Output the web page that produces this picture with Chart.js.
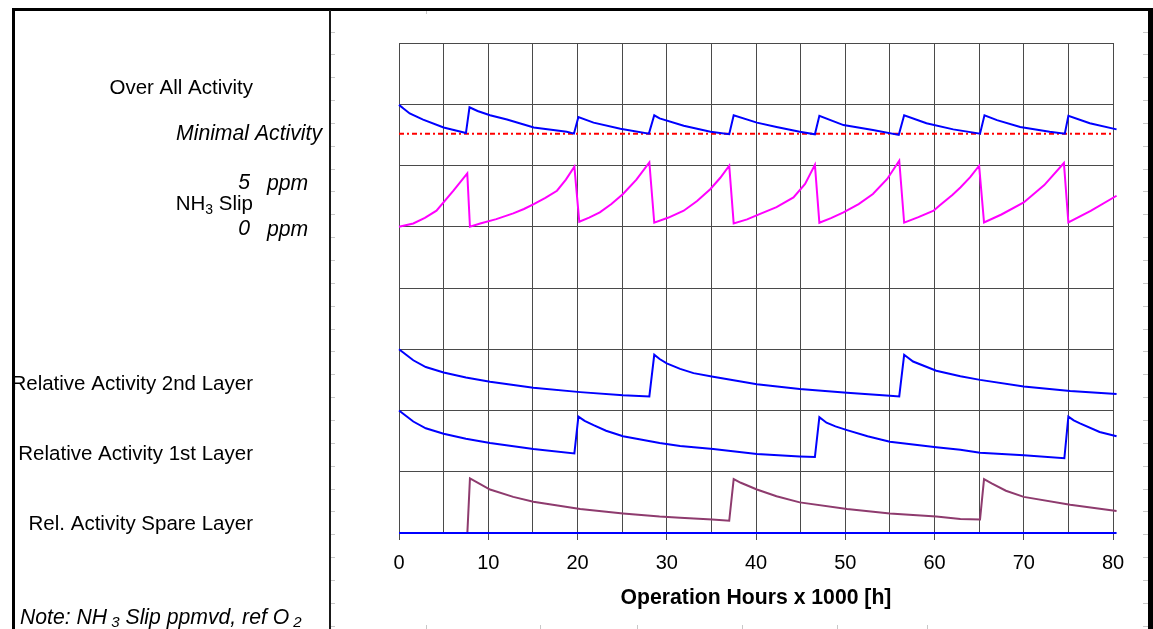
<!DOCTYPE html>
<html>
<head>
<meta charset="utf-8">
<script src="https://cdn.jsdelivr.net/npm/chart.js@4.4.1/dist/chart.umd.min.js"></script>
<style>
  html, body { margin: 0; padding: 0; background: #fff; }
  canvas { display: block; }
</style>
</head>
<body>
<canvas id="myChart" width="1153" height="629"></canvas>
<script>
// hours x 1000 / relative activity inside its band (0..1)
const overallHours = [0, 0.5, 1.2, 2.7, 5.0, 7.5, 7.9, 8.8, 10.2, 12.1, 15.1, 18.8, 19.6, 20.1, 21.8, 24.8, 28.0,
    28.6, 29.2, 31.9, 34.9, 37.0, 37.5, 40.1, 42.3, 44.9, 46.6, 47.1, 49.8, 53.1, 56.0,
    56.6, 59.1, 62.1, 65.1, 65.6, 67.0, 69.6, 72.9, 74.6, 75.0, 77.4, 80.4];
const overallActivity = [0.99, 0.93, 0.85, 0.75, 0.62, 0.53, 0.95, 0.89, 0.82, 0.75, 0.62, 0.55, 0.52, 0.79, 0.70, 0.60, 0.52,
    0.82, 0.77, 0.65, 0.55, 0.51, 0.82, 0.70, 0.63, 0.55, 0.51, 0.81, 0.66, 0.58, 0.50,
    0.82, 0.69, 0.59, 0.52, 0.82, 0.74, 0.63, 0.55, 0.52, 0.81, 0.69, 0.59];

const minimalHours = [0, 80];
const minimalActivity = [0.52, 0.52];

// NH3 slip in ppm (band = 0..5 ppm)
const slipHours = [0, 1.6, 2.9, 4.2, 6.1, 7.65,
    7.95, 9.1, 10.9, 12.8, 14.0, 15.1, 16.4, 17.7, 18.7, 19.65,
    20.2, 21.3, 22.5, 23.8, 25.1, 26.6, 28.05,
    28.6, 30.2, 31.9, 33.4, 34.9, 36.0, 37.0,
    37.5, 39.0, 40.4, 42.3, 44.2, 45.5, 46.6,
    47.1, 48.4, 49.8, 51.5, 53.1, 54.7, 56.05,
    56.6, 58.2, 59.9, 60.6, 62.0, 62.9, 64.0, 65.0,
    65.55, 67.5, 70.0, 72.3, 74.5,
    75.0, 77.5, 80.4];
const slipPpm = [0, 0.27, 0.72, 1.31, 2.94, 4.35,
    0, 0.27, 0.62, 1.09, 1.45, 1.85, 2.35, 2.94, 3.85, 4.9,
    0.41, 0.75, 1.17, 1.85, 2.67, 3.85, 5.25,
    0.33, 0.75, 1.31, 2.1, 3.08, 4.0, 4.98,
    0.27, 0.6, 1.03, 1.6, 2.39, 3.5, 5.06,
    0.33, 0.7, 1.17, 1.85, 2.67, 3.9, 5.39,
    0.33, 0.78, 1.31, 1.75, 2.6, 3.21, 4.05, 4.98,
    0.35, 1.0, 1.98, 3.4, 5.2,
    0.35, 1.3, 2.53];

const layer2Hours = [0, 0.8, 1.6, 3.0, 5.0, 7.5, 10.2, 15.05, 20.3, 25.1, 28.05, 28.6, 29.2, 30.0, 31.5, 33.0,
    35.2, 40.1, 44.9, 50.2, 55.0, 56.05, 56.6, 57.6, 60.2, 62.9, 65.1, 70.0, 75.2, 80.4];
const layer2Activity = [1.0, 0.91, 0.82, 0.71, 0.62, 0.54, 0.47, 0.37, 0.30, 0.25, 0.23, 0.91, 0.84, 0.77, 0.68, 0.61,
    0.55, 0.43, 0.35, 0.29, 0.24, 0.23, 0.91, 0.80, 0.65, 0.56, 0.50, 0.39, 0.32, 0.27];

const layer1Hours = [0, 0.8, 1.6, 3.0, 5.0, 7.5, 10.2, 15.05, 19.65, 20.1, 20.8, 21.8, 23.2, 25.1, 29.2, 31.5,
    35.2, 40.1, 44.9, 46.6, 47.1, 47.9, 48.9, 50.2, 52.5, 55.0, 60.2, 62.9, 65.1, 70.0, 74.55,
    75.0, 75.6, 76.3, 78.5, 80.4];
const layer1Activity = [1.0, 0.91, 0.82, 0.71, 0.62, 0.54, 0.47, 0.37, 0.30, 0.90, 0.83, 0.76, 0.67, 0.58, 0.47, 0.42,
    0.37, 0.29, 0.25, 0.24, 0.89, 0.80, 0.74, 0.68, 0.58, 0.49, 0.40, 0.36, 0.31, 0.27, 0.22,
    0.90, 0.84, 0.79, 0.65, 0.58];

const spareHours = [0, 7.66, 7.95, 8.6, 10.2, 12.8, 15.05, 20.3, 25.1, 29.2, 31.5, 35.1, 37.0, 37.5, 38.3, 40.1,
    42.3, 44.9, 50.2, 55.0, 60.2, 62.9, 65.1, 65.55, 66.4, 68.0, 70.0, 75.2, 80.4];
const spareActivity = [0, 0, 0.89, 0.84, 0.71, 0.59, 0.51, 0.39, 0.32, 0.27, 0.25, 0.22, 0.20, 0.88, 0.82, 0.71,
    0.60, 0.50, 0.39, 0.32, 0.27, 0.23, 0.22, 0.88, 0.81, 0.69, 0.59, 0.46, 0.36];

const baseHours = [0, 80.4];
const baseValue = [0, 0];

const xTickLabels = ['0', '10', '20', '30', '40', '50', '60', '70', '80'];

const FONT = "'Liberation Sans', Arial, sans-serif";
Chart.defaults.font.family = FONT;

// place a series into its band of the stacked plot
function band(xs, ys, base, scale) {
    return xs.map((x, i) => ({ x: x, y: base + ys[i] * scale }));
}

function line(data, color, extra) {
    return Object.assign({
        data: data,
        borderColor: color,
        borderWidth: 2,
        pointRadius: 0,
        fill: false,
        clip: false,
        tension: 0
    }, extra || {});
}

const datasets = [
    line(band(baseHours, baseValue, 0, 1), '#0000ff'),
    line(band(overallHours, overallActivity, 6, 1), '#0000ff'),
    line(band(minimalHours, minimalActivity, 6, 1), '#ff0000', { borderDash: [5, 3, 2, 3], borderWidth: 2 }),
    line(band(slipHours, slipPpm, 5, 1 / 5), '#ff00ff'),
    line(band(layer2Hours, layer2Activity, 2, 1), '#0000ff'),
    line(band(layer1Hours, layer1Activity, 1, 1), '#0000ff'),
    line(band(spareHours, spareActivity, 0, 1), '#8e3b6e')
];

// frame, left hand labels and axis title
const decor = {
    id: 'decor',
    afterDraw(chart) {
        const ctx = chart.ctx;
        ctx.save();

        // faint spreadsheet ticks
        ctx.strokeStyle = '#c8c8c8';
        ctx.lineWidth = 1;
        ctx.beginPath();
        for (let y = 31.5; y < 629; y += 22.85) {
            const yy = Math.round(y) + 0.5;
            ctx.moveTo(1143, yy); ctx.lineTo(1148, yy);
            ctx.moveTo(331, yy); ctx.lineTo(335, yy);
        }
        [426, 540, 637, 742, 837, 927].forEach(x => {
            ctx.moveTo(x + 0.5, 625); ctx.lineTo(x + 0.5, 629);
        });
        ctx.moveTo(426.5, 11); ctx.lineTo(426.5, 14);
        ctx.stroke();

        // left labels
        ctx.save();
        ctx.beginPath();
        ctx.rect(15, 11, 313, 618);
        ctx.clip();
        ctx.fillStyle = '#000';
        ctx.textBaseline = 'middle';
        const reg = '20.5px ' + FONT;
        const ita = 'italic 21.2px ' + FONT;
        const sub = '14px ' + FONT;
        const itaSub = 'italic 15px ' + FONT;

        ctx.textAlign = 'right';
        ctx.font = reg;
        ctx.fillText('Over All Activity', 253, 88);
        ctx.fillText('Relative Activity 2nd Layer', 253, 384);
        ctx.fillText('Relative Activity 1st Layer', 253, 454);
        ctx.fillText('Rel. Activity Spare Layer', 253, 524);
        ctx.font = ita;
        ctx.fillText('Minimal Activity', 322, 134);
        ctx.fillText('5', 250, 183);
        ctx.fillText('0', 250, 229);
        ctx.textAlign = 'left';
        ctx.fillText('ppm', 267, 184);
        ctx.fillText('ppm', 267, 230);

        // NH3 Slip, right aligned at 253
        ctx.font = reg;
        const wNH = ctx.measureText('NH').width;
        const wSlip = ctx.measureText(' Slip').width;
        ctx.font = sub;
        const w3 = ctx.measureText('3').width;
        let x0 = 253 - wNH - w3 - wSlip;
        ctx.font = reg;
        ctx.fillText('NH', x0, 204);
        ctx.font = sub;
        ctx.fillText('3', x0 + wNH, 210);
        ctx.font = reg;
        ctx.fillText(' Slip', x0 + wNH + w3, 204);

        // note line
        let x = 20;
        const parts = [
            ['Note: NH', ita, 618], [' 3', itaSub, 623],
            [' Slip ppmvd, ref O', ita, 618], [' 2', itaSub, 623]
        ];
        parts.forEach(p => {
            ctx.font = p[1];
            ctx.fillText(p[0], x, p[2]);
            x += ctx.measureText(p[0]).width;
        });
        ctx.restore();

        // axis title
        ctx.fillStyle = '#000';
        ctx.textAlign = 'center';
        ctx.textBaseline = 'middle';
        ctx.font = 'bold 21.2px ' + FONT;
        ctx.fillText('Operation Hours x 1000 [h]', 756, 598);

        // outer frame
        ctx.fillStyle = '#000';
        ctx.fillRect(12, 8, 3, 621);
        ctx.fillRect(12, 8, 1140, 3);
        ctx.fillRect(1148, 8, 5, 621);
        ctx.fillStyle = '#1a1a1a';
        ctx.fillRect(329, 10, 2, 619);
        ctx.restore();
    }
};

const ctx = document.getElementById('myChart').getContext('2d');
const myChart = new Chart(ctx, {
    type: 'line',
    data: { datasets: datasets },
    options: {
        responsive: false,
        animation: false,
        events: [],
        layout: { padding: { left: 399, top: 43, right: 40, bottom: 0 } },
        plugins: { legend: { display: false }, tooltip: { enabled: false } },
        scales: {
            x: {
                type: 'linear',
                min: 0,
                max: 80,
                ticks: {
                    stepSize: 5,
                    autoSkip: false,
                    maxRotation: 0,
                    padding: 11,
                    color: '#000',
                    font: { size: 20 },
                    callback: v => v % 10 === 0 ? xTickLabels[v / 10] : ''
                },
                grid: {
                    color: '#4a4a4a',
                    lineWidth: 1,
                    tickLength: 7,
                    tickColor: c => (c.tick && c.tick.value % 10 === 0) ? '#4a4a4a' : 'rgba(0,0,0,0)'
                },
                border: { display: false },
                afterFit: s => { s.height = 96; }
            },
            y: {
                min: 0,
                max: 8,
                ticks: { stepSize: 1, display: false },
                grid: { color: '#4a4a4a', lineWidth: 1, drawTicks: false },
                border: { display: false },
                afterFit: s => { s.width = 0; }
            }
        }
    },
    plugins: [decor]
});
</script>
</body>
</html>
